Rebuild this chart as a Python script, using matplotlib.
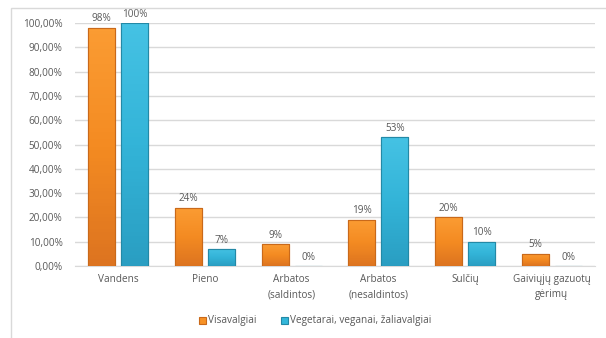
import matplotlib
matplotlib.use("Agg")
import matplotlib.pyplot as plt
import numpy as np
from matplotlib.colors import LinearSegmentedColormap
from matplotlib.patches import Rectangle

categories = ["Vandens", "Pieno", "Arbatos\n(saldintos)", "Arbatos\n(nesaldintos)",
              "Sulčių", "Gaiviųjų gazuotų\ngėrimų"]
visavalgiai = [98, 24, 9, 19, 20, 5]
vegetarai = [100, 7, 0, 53, 10, 0]
series_names = ["Visavalgiai", "Vegetarai, veganai, žaliavalgiai"]
y_ticks = [0, 10, 20, 30, 40, 50, 60, 70, 80, 90, 100]

TEXT = "#595959"
ORANGE = "#F79226"
ORANGE_EDGE = "#C9691A"
BLUE = "#33B7DA"
BLUE_EDGE = "#2389A6"

plt.rcParams["font.family"] = ["Open Sans", "DejaVu Sans"]

fig = plt.figure(figsize=(6.06, 3.38), dpi=100)
fig.patches.append(Rectangle((11 / 606, -0.1), 1.2, 1 - 8 / 338 + 0.1, transform=fig.transFigure,
                             fill=False, edgecolor="#D9D9D9", linewidth=1))
ax = fig.add_axes([75 / 606, 1 - 266 / 338, 520 / 606, (266 - 23) / 338])

x = np.arange(len(categories))
w = 0.31
off = 0.19
b1 = ax.bar(x - off, visavalgiai, w, color=ORANGE, edgecolor=ORANGE_EDGE, linewidth=0.8,
            label=series_names[0], zorder=3)
b2 = ax.bar(x + off, vegetarai, w, color=BLUE, edgecolor=BLUE_EDGE, linewidth=0.8,
            label=series_names[1], zorder=3)

# light top, darker bottom shading on each bar
shades = {
    "o": LinearSegmentedColormap.from_list("o", ["#DD7420", "#F48B22", "#FB9C33"]),
    "b": LinearSegmentedColormap.from_list("b", ["#2A9EC2", "#33B4D8", "#45C2E4"]),
}
grad = np.linspace(0, 1, 64).reshape(-1, 1)
for bars, cmap in ((b1, shades["o"]), (b2, shades["b"])):
    for bar in bars:
        h = bar.get_height()
        if h <= 0:
            continue
        x0 = bar.get_x()
        im = ax.imshow(grad, cmap=cmap, origin="lower", aspect="auto",
                       extent=(x0, x0 + bar.get_width(), 0, h), zorder=3.5)
        im.set_clip_path(bar)
        ax.add_patch(Rectangle((x0, 0), bar.get_width(), h, fill=False,
                               edgecolor=bar.get_edgecolor(), linewidth=0.8, zorder=3.6))

for bars, vals in ((b1, visavalgiai), (b2, vegetarai)):
    for bar, v in zip(bars, vals):
        ax.annotate(f"{v}%", (bar.get_x() + bar.get_width() / 2, v), xytext=(0, 2.5),
                    textcoords="offset points", ha="center", va="bottom",
                    fontsize=7.2, color=TEXT)

ax.set_xlim(-0.5, len(categories) - 0.5)
ax.set_ylim(0, 100)
ax.set_yticks(y_ticks)
ax.set_yticklabels([f"{t},00%" for t in y_ticks])
ax.set_xticks(x)
ax.set_xticklabels(categories, linespacing=1.5)
ax.tick_params(axis="both", length=0, labelsize=7.2, labelcolor=TEXT)
ax.tick_params(axis="x", pad=6)
ax.tick_params(axis="y", pad=9)
ax.grid(axis="y", color="#D9D9D9", linewidth=1, zorder=0)
for s in ("top", "right", "left"):
    ax.spines[s].set_visible(False)
ax.spines["bottom"].set_color("#D9D9D9")

leg = fig.legend(handles=[b1, b2], loc="center", bbox_to_anchor=(315 / 606, 1 - 321 / 338),
                 ncol=2, frameon=False, fontsize=7.2, handlelength=0.7, handleheight=0.7,
                 handletextpad=0.2, columnspacing=2.5)
for t in leg.get_texts():
    t.set_color(TEXT)

fig.savefig("out.png", dpi=100)
